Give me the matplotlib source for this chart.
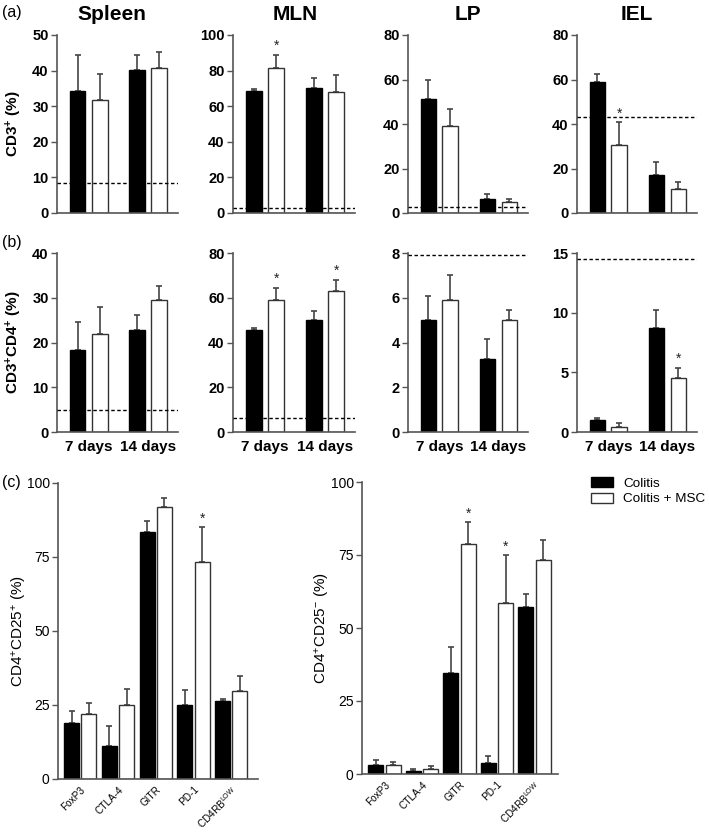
import matplotlib
matplotlib.use("Agg")
import matplotlib.pyplot as plt
import numpy as np
from matplotlib.patches import Patch

plt.rcParams['font.family'] = ['Liberation Sans', 'DejaVu Sans']
plt.rcParams['mathtext.fontset'] = 'custom'
plt.rcParams['mathtext.rm'] = 'Liberation Sans'
plt.rcParams['mathtext.bf'] = 'Liberation Sans:bold'
plt.rcParams['mathtext.it'] = 'Liberation Sans:italic'

# ---------------- data ----------------
tissues = ["Spleen", "MLN", "LP", "IEL"]
timepoints = ["7 days", "14 days"]

# Row (a): CD3+ (%)  -> [colitis_7d, colitis+MSC_7d, colitis_14d, colitis+MSC_14d]
cd3_mean = {"Spleen": [34.2, 31.8, 40.1, 40.8],
            "MLN": [68.6, 81.2, 70.1, 67.7],
            "LP": [51.1, 39.3, 6.1, 4.9],
            "IEL": [58.7, 30.6, 17.2, 10.9]}
cd3_err = {"Spleen": [10.2, 7.2, 4.3, 4.5],
           "MLN": [0.9, 7.6, 6.0, 9.9],
           "LP": [8.7, 7.3, 2.4, 1.5],
           "IEL": [3.9, 10.1, 5.6, 3.2]}
cd3_ref = {"Spleen": 8.5, "MLN": 2.8, "LP": 2.7, "IEL": 43.3}
cd3_star = {"Spleen": [], "MLN": [1], "LP": [], "IEL": [1]}
cd3_ymax = {"Spleen": 50, "MLN": 100, "LP": 80, "IEL": 80}
cd3_step = {"Spleen": 10, "MLN": 20, "LP": 20, "IEL": 20}

# Row (b): CD3+CD4+ (%)
cd4_mean = {"Spleen": [18.3, 22.0, 22.8, 29.4],
            "MLN": [45.4, 59.0, 50.2, 63.0],
            "LP": [5.0, 5.9, 3.25, 5.0],
            "IEL": [1.0, 0.4, 8.7, 4.55]}
cd4_err = {"Spleen": [6.2, 6.0, 3.3, 3.3],
           "MLN": [1.1, 5.5, 4.0, 5.0],
           "LP": [1.1, 1.1, 0.9, 0.45],
           "IEL": [0.2, 0.35, 1.5, 0.85]}
cd4_ref = {"Spleen": 4.9, "MLN": 6.2, "LP": 7.9, "IEL": 14.5}
cd4_star = {"Spleen": [], "MLN": [1, 3], "LP": [], "IEL": [3]}
cd4_ymax = {"Spleen": 40, "MLN": 80, "LP": 8, "IEL": 15}
cd4_step = {"Spleen": 10, "MLN": 20, "LP": 2, "IEL": 5}

# Row (c)
markers = ["FoxP3", "CTLA-4", "GITR", "PD-1", r"CD4RB$^{\mathrm{LOW}}$"]
pos_colitis = [19.0, 11.0, 83.5, 25.0, 26.5]
pos_colitis_err = [4.0, 7.0, 3.8, 5.0, 0.5]
pos_msc = [22.0, 25.0, 91.8, 73.3, 29.7]
pos_msc_err = [3.8, 5.5, 3.0, 11.7, 5.1]
pos_star = [3]

neg_colitis = [3.1, 1.0, 34.7, 3.9, 57.2]
neg_colitis_err = [1.7, 0.6, 8.9, 2.3, 4.4]
neg_msc = [3.1, 1.7, 78.6, 58.6, 73.2]
neg_msc_err = [0.9, 1.0, 7.7, 16.3, 7.1]
neg_star = [2, 3]

legend_labels = ["Colitis", "Colitis + MSC"]

# ---------------- style ----------------
W, H = 709, 832
fig = plt.figure(figsize=(W / 100, H / 100), dpi=100)

spine_col = "#555555"
err_col = "#444444"


def style_axes(ax, bold=True, fs=10):
    for s in ["top", "right"]:
        ax.spines[s].set_visible(False)
    for s in ["left", "bottom"]:
        ax.spines[s].set_color(spine_col)
        ax.spines[s].set_linewidth(1.2)
    ax.tick_params(axis="y", direction="out", length=4, width=1.0, color=spine_col,
                   labelsize=fs, pad=2)
    ax.tick_params(axis="x", length=0)
    for lab in ax.get_yticklabels():
        lab.set_fontweight("bold" if bold else "normal")


def px_axes(x0, x1, ytop, ybot):
    return fig.add_axes([x0 / W, 1 - ybot / H, (x1 - x0) / W, (ybot - ytop) / H])


xcols = [(57, 178), (233, 355), (408, 528), (577, 697)]
off = 0.186
bw = 0.265
xs = np.array([-off, off, 1 - off, 1 + off])
colors = ["black", "white", "black", "white"]


def draw_row(means, errs, refs, stars, ymaxs, steps, ytop, ybot, show_x, ylabel):
    for i, t in enumerate(tissues):
        x0, x1 = xcols[i]
        ax = px_axes(x0, x1, ytop, ybot)
        m = means[t]
        e = errs[t]
        ax.bar(xs, m, width=bw, color=colors, edgecolor=["black", "#333333"] * 2,
               linewidth=1.0, zorder=2)
        ax.errorbar(xs, m, yerr=[np.zeros(4), e], fmt="none", ecolor=err_col,
                    elinewidth=1.2, capsize=2.2, capthick=1.2, zorder=1)
        ax.axhline(refs[t], color="black", linestyle=(0, (2.5, 1.8)), linewidth=1.0, zorder=3)
        ymax = ymaxs[t]
        for k in stars[t]:
            ax.text(xs[k], m[k] + e[k] + ymax * 0.01, "*", ha="center", va="bottom",
                    fontsize=10, color="#222222")
        ax.set_xlim(-0.53, 1.5)
        ax.set_ylim(0, ymax)
        ax.set_yticks(np.arange(0, ymax + 0.001, steps[t]))
        if show_x:
            ax.set_xticks([0, 1])
            ax.set_xticklabels(timepoints, fontsize=11, fontweight="bold")
            ax.tick_params(axis="x", pad=6)
        else:
            ax.set_xticks([])
        style_axes(ax, bold=True, fs=10.5)
        if i == 0:
            ax.set_ylabel(ylabel, fontsize=11, fontweight="bold")
            ax.yaxis.set_label_coords((24 - x0) / (x1 - x0), 0.5)


# Row (a)
draw_row(cd3_mean, cd3_err, cd3_ref, cd3_star, cd3_ymax, cd3_step, 35, 213, False,
         r"CD3$^{\mathbf{+}}$ (%)")
# Row (b)
draw_row(cd4_mean, cd4_err, cd4_ref, cd4_star, cd4_ymax, cd4_step, 253, 432, True,
         r"CD3$^{\mathbf{+}}$CD4$^{\mathbf{+}}$ (%)")

# Titles
title_x = [112, 295, 468, 637]
for t, tx in zip(tissues, title_x):
    fig.text(tx / W, 1 - 14 / H, t, ha="center", va="center", fontsize=15, fontweight="bold")

# Panel letters
fig.text(2 / W, 1 - 12 / H, "(a)", ha="left", va="center", fontsize=11.5)
fig.text(2 / W, 1 - 243 / H, "(b)", ha="left", va="center", fontsize=11.5)
fig.text(2 / W, 1 - 483 / H, "(c)", ha="left", va="center", fontsize=11.5)


# Row (c)
def draw_c(x0, x1, ytop, ybot, c_m, c_e, m_m, m_e, stars, xlim, ylabel, label_x):
    ax = px_axes(x0, x1, ytop, ybot)
    g = np.arange(len(markers))
    o = 0.23
    w = 0.4
    ax.bar(g - o, c_m, width=w, color="black", edgecolor="black", linewidth=1.0, zorder=2)
    ax.bar(g + o, m_m, width=w, color="white", edgecolor="#333333", linewidth=1.0, zorder=2)
    ax.errorbar(g - o, c_m, yerr=[np.zeros(len(g)), c_e], fmt="none", ecolor=err_col,
                elinewidth=1.2, capsize=2.2, capthick=1.2, zorder=1)
    ax.errorbar(g + o, m_m, yerr=[np.zeros(len(g)), m_e], fmt="none", ecolor=err_col,
                elinewidth=1.2, capsize=2.2, capthick=1.2, zorder=1)
    for k in stars:
        ax.text(g[k] + o, m_m[k] + m_e[k] + 0.5, "*", ha="center", va="bottom",
                fontsize=10, color="#222222")
    ax.set_xlim(*xlim)
    ax.set_ylim(0, 100)
    ax.set_yticks([0, 25, 50, 75, 100])
    ax.set_xticks(g)
    ax.set_xticklabels(markers, rotation=45, ha="right", rotation_mode="anchor", fontsize=7.2)
    style_axes(ax, bold=False, fs=10)
    ax.tick_params(axis="x", pad=4)
    ax.set_ylabel(ylabel, fontsize=11)
    ax.yaxis.set_label_coords((label_x - x0) / (x1 - x0), 0.5)
    return ax


draw_c(58, 258, 483, 779, pos_colitis, pos_colitis_err, pos_msc, pos_msc_err, pos_star,
       (-0.59, 4.71), r"CD4$^{+}$CD25$^{+}$ (%)", 29)
axr = draw_c(362, 558, 482, 774, neg_colitis, neg_colitis_err, neg_msc, neg_msc_err, neg_star,
             (-0.6, 4.63), r"CD4$^{+}$CD25$^{-}$ (%)", 332)

handles = [Patch(facecolor="black", edgecolor="black"),
           Patch(facecolor="white", edgecolor="#333333")]
fig.legend(handles, legend_labels, loc="upper left", bbox_to_anchor=(591 / W, 1 - 477 / H),
           frameon=False, fontsize=9.7, handlelength=1.6, handleheight=0.8,
           handletextpad=0.8, labelspacing=0.2, borderaxespad=0, borderpad=0)

fig.savefig("out.png", dpi=100)
